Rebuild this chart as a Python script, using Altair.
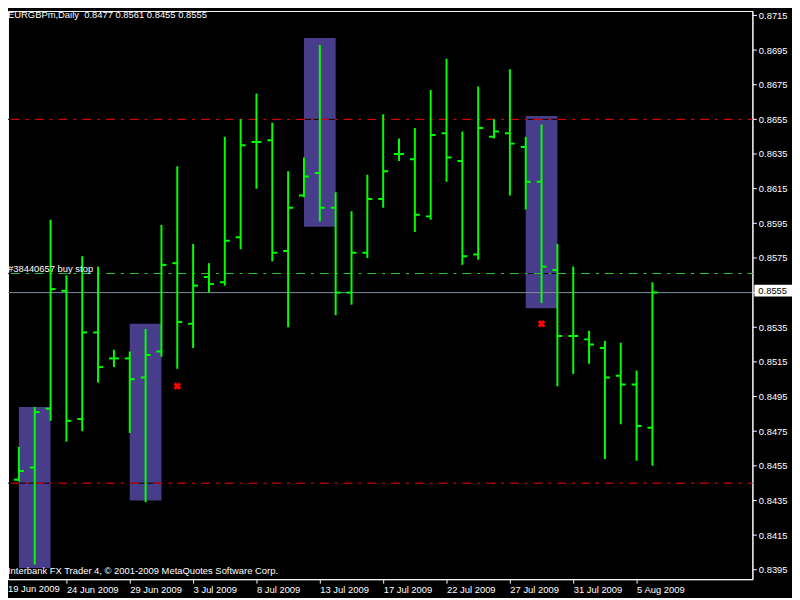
import altair as alt
import pandas as pd

# ---------------- data ----------------
bar_dates = ["2009-06-19", "2009-06-21", "2009-06-22", "2009-06-23", "2009-06-24", "2009-06-25",
             "2009-06-26", "2009-06-28", "2009-06-29", "2009-06-30", "2009-07-01", "2009-07-02",
             "2009-07-03", "2009-07-05", "2009-07-06", "2009-07-07", "2009-07-08", "2009-07-09",
             "2009-07-10", "2009-07-12", "2009-07-13", "2009-07-14", "2009-07-15", "2009-07-16",
             "2009-07-17", "2009-07-19", "2009-07-20", "2009-07-21", "2009-07-22", "2009-07-23",
             "2009-07-24", "2009-07-26", "2009-07-27", "2009-07-28", "2009-07-29", "2009-07-30",
             "2009-07-31", "2009-08-02", "2009-08-03", "2009-08-04", "2009-08-05", "2009-08-06"]
opens = [0.8449, 0.8447, 0.8454, 0.8488, 0.8556, 0.8482, 0.8532, 0.8517, 0.8517, 0.8506,
         0.8521, 0.8572, 0.8537, 0.8564, 0.8561, 0.8587, 0.8642, 0.8643, 0.8579, 0.8611,
         0.8624, 0.8604, 0.8555, 0.8578, 0.8609, 0.8635, 0.8632, 0.8599, 0.8647, 0.8631,
         0.8577, 0.8645, 0.8647, 0.8639, 0.8619, 0.8568, 0.8530, 0.8528, 0.8523, 0.8507,
         0.8502, 0.8477]
highs = [0.8528, 0.8466, 0.8489, 0.8597, 0.8565, 0.8576, 0.8570, 0.8522, 0.8521, 0.8534,
         0.8594, 0.8628, 0.8583, 0.8572, 0.8645, 0.8655, 0.8670, 0.8653, 0.8625, 0.8633,
         0.8698, 0.8613, 0.8602, 0.8623, 0.8658, 0.8644, 0.8650, 0.8672, 0.8690, 0.8648,
         0.8674, 0.8655, 0.8684, 0.8645, 0.8652, 0.8583, 0.8570, 0.8533, 0.8527, 0.8526,
         0.8510, 0.8561]
lows = [0.8446, 0.8446, 0.8398, 0.8481, 0.8469, 0.8475, 0.8503, 0.8512, 0.8474, 0.8434,
        0.8518, 0.8511, 0.8523, 0.8555, 0.8559, 0.8580, 0.8615, 0.8573, 0.8535, 0.8610,
        0.8596, 0.8542, 0.8548, 0.8575, 0.8604, 0.8631, 0.8590, 0.8597, 0.8619, 0.8571,
        0.8574, 0.8644, 0.8611, 0.8603, 0.8549, 0.8501, 0.8508, 0.8514, 0.8459, 0.8479,
        0.8458, 0.8455]
closes = [0.8450, 0.8452, 0.8486, 0.8557, 0.8481, 0.8532, 0.8512, 0.8517, 0.8505, 0.8519,
          0.8571, 0.8538, 0.8559, 0.8560, 0.8585, 0.8640, 0.8642, 0.8578, 0.8604, 0.8622,
          0.8604, 0.8555, 0.8578, 0.8609, 0.8625, 0.8635, 0.8600, 0.8646, 0.8633, 0.8576,
          0.8650, 0.8648, 0.8641, 0.8619, 0.8570, 0.8530, 0.8530, 0.8525, 0.8506, 0.8502,
          0.8478, 0.8555]

axis_labels = ["19 Jun 2009", "24 Jun 2009", "29 Jun 2009", "3 Jul 2009", "8 Jul 2009",
               "13 Jul 2009", "17 Jul 2009", "22 Jul 2009", "27 Jul 2009", "31 Jul 2009",
               "5 Aug 2009"]
y_ticks = [0.8395, 0.8415, 0.8435, 0.8455, 0.8475, 0.8495, 0.8515, 0.8535, 0.8555,
           0.8575, 0.8595, 0.8615, 0.8635, 0.8655, 0.8675, 0.8695, 0.8715]

# rectangles (bar index range, price range)
rect_start = [1, 8, 19, 33]
rect_end = [3, 10, 21, 35]
rect_top = [0.8489, 0.8537, 0.8702, 0.8657]
rect_bottom = [0.8396, 0.8435, 0.8593, 0.8546]

# red crosses
cross_idx = [11, 34]
cross_price = [0.8501, 0.8537]

# order levels
red_levels = [0.8655, 0.8445]
buy_stop_level = [0.8566]
bid_level = [0.8555]

symbol = "EURGBPm,Daily"
order_label = "#38440657 buy stop"
copyright_text = "Interbank FX Trader 4, \u00a9 2001-2009 MetaQuotes Software Corp."

# ---------------- frames ----------------
df = pd.DataFrame({"i": list(range(len(bar_dates))), "date": bar_dates, "open": opens,
                   "high": highs, "low": lows, "close": closes})
rect_df = pd.DataFrame({"x1": rect_start, "x2": rect_end, "top": rect_top, "bottom": rect_bottom})
cross_df = pd.DataFrame({"i": cross_idx, "price": cross_price})
red_df = pd.DataFrame({"price": red_levels})
green_df = pd.DataFrame({"price": buy_stop_level, "label": [order_label]})
bid_df = pd.DataFrame({"price": bid_level, "label": [f"{bid_level[0]:.4f}"]})
title_str = (symbol + "\u00a0\u00a0" + " ".join(f"{v:.4f}" for v in
             [opens[-1], highs[-1], lows[-1], closes[-1]]))
title_df = pd.DataFrame({"t": [title_str]})
copy_df = pd.DataFrame({"t": [copyright_text]})
first_df = pd.DataFrame({"t": [axis_labels[0]]})

# ---------------- scales & axes ----------------
W, H = 752, 574
FONT = "Liberation Sans"
FS = 9.5
xs = alt.Scale(domain=[0.3125, 47.3125], nice=False, zero=False)
ys = alt.Scale(domain=[0.8389571, 0.8717571], nice=False, zero=False)

label_arr = "[" + ",".join(f"'{s}'" for s in axis_labels) + "]"
x_axis = alt.Axis(title="", orient="bottom", grid=False,
                  values=[4 * k for k in range(1, len(axis_labels))],
                  labelExpr=label_arr + "[round(datum.value/4)]",
                  tickSize=4, tickColor="white", domainColor="white",
                  labelColor="white", labelFont=FONT, labelFontSize=FS,
                  labelAlign="left", labelBaseline="top", labelPadding=1,
                  labelOverlap=False, labelFlush=False, labelBound=False)
# the bid price label is drawn separately in its white box
y_axis = alt.Axis(title="", orient="right", grid=False, values=y_ticks,
                  labelExpr=f"abs(datum.value - {bid_level[0]}) < 0.00001 ? '' : format(datum.value, '.4f')",
                  tickSize=4, tickColor="white", domainColor="white",
                  labelColor="white", labelFont=FONT, labelFontSize=FS,
                  labelAlign="left", labelBaseline="middle", labelPadding=2,
                  labelOverlap=False, labelFlush=False, labelBound=False)


def X(f):
    return alt.X(f, type="quantitative", scale=xs, axis=x_axis)


def Y(f):
    return alt.Y(f, type="quantitative", scale=ys, axis=y_axis)


GREEN = "#00FF00"
DASH = [9, 6, 3, 6]

rects = alt.Chart(rect_df).mark_rect(color="#483D8B", clip=True).encode(
    x=X("x1"), x2=alt.X2("x2"), y=Y("top"), y2=alt.Y2("bottom"))

under = alt.Chart(pd.concat([red_df, green_df[["price"]]])).mark_rule(
    color="black", strokeWidth=1).encode(y=Y("price"))
red_lines = alt.Chart(red_df).mark_rule(
    color="#FF0000", strokeWidth=1, strokeDash=DASH, strokeDashOffset=4).encode(y=Y("price"))
green_line = alt.Chart(green_df).mark_rule(
    color="#32CD32", strokeWidth=1, strokeDash=DASH, strokeDashOffset=4).encode(y=Y("price"))
bid_line = alt.Chart(bid_df).mark_rule(color="#7F8CA0", strokeWidth=1).encode(y=Y("price"))

hl = alt.Chart(df).mark_rule(color=GREEN, strokeWidth=2, clip=True).encode(
    x=X("i"), y=Y("low"), y2=alt.Y2("high"))
open_t = alt.Chart(df).transform_calculate(xo="datum.i - 0.3125").mark_rule(
    color=GREEN, strokeWidth=2, clip=True).encode(x=X("xo:Q"), x2=alt.X2("i"), y=Y("open"))
close_t = alt.Chart(df).transform_calculate(xc="datum.i + 0.3125").mark_rule(
    color=GREEN, strokeWidth=2, clip=True).encode(x=X("i"), x2=alt.X2("xc:Q"), y=Y("close"))

crosses = alt.Chart(cross_df).mark_point(
    shape="cross", angle=45, filled=True, color="#FF0000", size=60, opacity=1).encode(
    x=X("i"), y=Y("price"))

txt = dict(font=FONT, fontSize=FS, color="white", align="left", baseline="middle")
title_t = alt.Chart(title_df).mark_text(**txt).encode(
    x=alt.value(0), y=alt.value(4.5), text="t:N")
order_t = alt.Chart(green_df).mark_text(dy=-5, **txt).encode(
    x=alt.value(0), y=Y("price"), text="label:N")
copy_t = alt.Chart(copy_df).mark_text(**txt).encode(
    x=alt.value(0), y=alt.value(566), text="t:N")
first_t = alt.Chart(first_df).mark_text(font=FONT, fontSize=FS, color="white", align="left",
                                        baseline="top").encode(
    x=alt.value(0), y=alt.value(H + 5), text="t:N")

bid_box = alt.Chart(bid_df).mark_rect(color="white", yOffset=-8, y2Offset=4, clip=False).encode(
    x=alt.value(W + 2), x2=alt.value(W + 48), y=Y("price"), y2=alt.Y2("price"))
bid_txt = alt.Chart(bid_df).mark_text(font=FONT, fontSize=FS, color="black", align="left",
                                      baseline="middle", dy=-2).encode(
    x=alt.value(W + 6), y=Y("price"), text="label:N")

chart = alt.layer(
    rects, under, red_lines, green_line, bid_line, hl, open_t, close_t, crosses,
    title_t, order_t, copy_t, first_t, bid_box, bid_txt
).properties(
    width=W, height=H,
    autosize=alt.AutoSizeParams(type="none"),
    padding={"left": 0, "top": 0, "right": 40, "bottom": 16},
).configure(background="#000000").configure_view(stroke="white", strokeWidth=1, fill="#000000")

chart.save("out.html", embed_options={"renderer": "svg", "actions": False})
